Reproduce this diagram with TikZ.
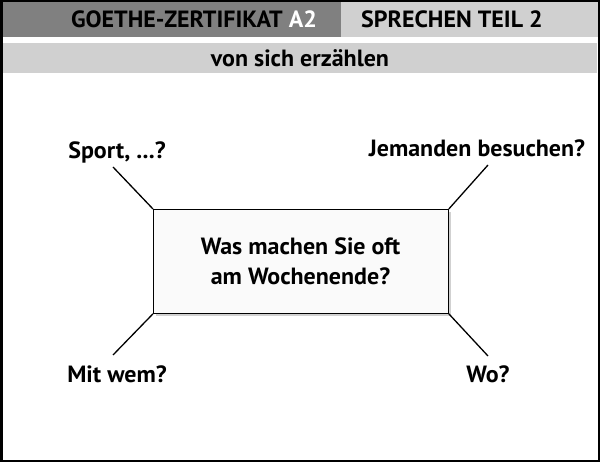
\documentclass[tikz,border=0pt]{standalone}
\usepackage{fontspec}
\setmainfont{PT Sans}[FakeStretch=1.02]
\definecolor{hdrdark}{HTML}{808080}
\definecolor{hdrlight}{HTML}{D0D0D0}
\begin{document}
\begin{tikzpicture}[x=1pt,y=-1pt,
  lbl/.style={font=\bfseries\fontsize{23.5}{28}\selectfont, inner sep=0pt, anchor=base},
  hdr/.style={font=\bfseries\fontsize{23.5}{28}\selectfont, inner sep=0pt, anchor=base},
  spoke/.style={draw=black, line width=1.3pt}]
\useasboundingbox (0,0) rectangle (600,462);
\fill[white] (0,0) rectangle (600,462);
% header
\fill[hdrdark] (0,0) rectangle (341,37);
\fill[hdrlight] (341,0) rectangle (600,37);
\fill[hdrlight] (3,43) rectangle (597,73);
\node[hdr] (h1) at (194,28) {GOETHE-ZERTIFIKAT \textcolor{white}{A2}};
\node[hdr] (h2) at (452,28) {SPRECHEN TEIL 2};
\node[hdr] (h3) at (300,67) {von sich erzählen};
% shadow and central box
\fill[black!18] (156,212) rectangle (451,316);
\node[draw=black, line width=0.8pt, fill=black!2, minimum width=295pt, minimum height=104pt, inner sep=0pt, anchor=north west] (box) at (153,209) {};
\node[lbl] (q1) at (300.5,255) {Was machen Sie oft};
\node[lbl] (q2) at (300.5,285) {am Wochenende?};
% labels
\node[lbl] (sport) at (117,159) {Sport, ...?};
\node[lbl] (besuch) at (477,157) {Jemanden besuchen?};
\node[lbl] (mit) at (117,382) {Mit wem?};
\node[lbl] (wo) at (488,383) {Wo?};
\coordinate (s1) at (113,167);
\coordinate (s2) at (488,165);
\coordinate (s3) at (113,355);
\coordinate (s4) at (488,356);
\draw[spoke] (box.north west) -- (s1);
\draw[spoke] (box.north east) -- (s2);
\draw[spoke] (box.south west) -- (s3);
\draw[spoke] (box.south east) -- (s4);
% outer frame
\draw[black, line width=2.5pt] (1.25,1.25) rectangle (598.75,460.75);
\end{tikzpicture}
\end{document}
